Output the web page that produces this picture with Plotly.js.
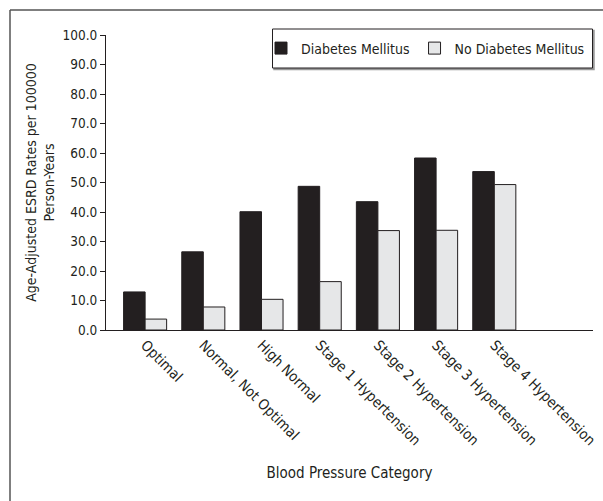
<!DOCTYPE html>
<html>
<head>
<meta charset="utf-8">
<script src="https://cdn.plot.ly/plotly-3.0.1.min.js"></script>
<style>
  html, body { margin: 0; padding: 0; background: #fff; }
  #chart { width: 603px; height: 501px; }
</style>
</head>
<body>
<div id="chart"></div>
<script>
const categories = [
  "Optimal",
  "Normal, Not Optimal",
  "High Normal",
  "Stage 1 Hypertension",
  "Stage 2 Hypertension",
  "Stage 3 Hypertension",
  "Stage 4 Hypertension"
];
const diabetesValues = [12.9, 26.5, 40.1, 48.7, 43.5, 58.3, 53.7];
const noDiabetesValues = [3.7, 7.8, 10.4, 16.4, 33.7, 33.8, 49.3];
const seriesNames = ["Diabetes Mellitus", "No Diabetes Mellitus"];
const yTickValues = [0, 10, 20, 30, 40, 50, 60, 70, 80, 90, 100];

const FONT = "'DejaVu Sans Condensed', 'Liberation Sans Narrow', 'Arial Narrow', sans-serif";
const INK = "#231f20";

// plot area geometry (pixels)
const W = 603, H = 501;
const M = { l: 106, r: 10, t: 35, b: 171 };
const pw = W - M.l - M.r, ph = H - M.t - M.b;
const px = x => (x - M.l) / pw;
const py = y => (H - M.b - y) / ph;

const data = [
  {
    type: "bar", name: seriesNames[0], x: categories, y: diabetesValues,
    marker: { color: INK, line: { color: INK, width: 1 } }
  },
  {
    type: "bar", name: seriesNames[1], x: categories, y: noDiabetesValues,
    marker: { color: "#e6e7e8", line: { color: INK, width: 1 } }
  }
];

const layout = {
  width: W, height: H,
  margin: M,
  paper_bgcolor: "#fff", plot_bgcolor: "rgba(0,0,0,0)",
  font: { family: FONT, size: 14, color: INK },
  barmode: "group",
  bargap: 0.26, bargroupgap: 0,
  showlegend: true,
  legend: {
    orientation: "h",
    x: px(590), xanchor: "right", y: py(48.5), yanchor: "middle",
    borderwidth: 0, bgcolor: "rgba(0,0,0,0)",
    font: { family: FONT, size: 14, color: INK },
    traceorder: "normal"
  },
  xaxis: {
    type: "category",
    range: [-0.672, 7.696],
    showline: true, linecolor: INK, linewidth: 1,
    ticks: "", tickangle: 45,
    tickfont: { family: FONT, size: 14.5, color: INK },
    showgrid: false, zeroline: false,
    title: { text: "Blood Pressure Category", font: { family: FONT, size: 15, color: INK }, standoff: 19 },
    fixedrange: true
  },
  yaxis: {
    range: [0, 100],
    tickvals: yTickValues,
    tickformat: ".1f",
    showline: true, linecolor: INK, linewidth: 1,
    ticks: "outside", ticklen: 5, tickcolor: INK,
    tickfont: { family: FONT, size: 13.5, color: INK },
    showgrid: false, zeroline: false,
    title: { text: "Age-Adjusted ESRD Rates per 100000<br>Person-Years", font: { family: FONT, size: 14, color: INK }, standoff: 4 },
    fixedrange: true
  },
  shapes: [
    { type: "line", xref: "paper", yref: "paper", x0: px(10), x1: px(10), y0: py(10), y1: py(H), line: { color: "#555", width: 1.5 } },
    { type: "line", xref: "paper", yref: "paper", x0: px(10), x1: px(W), y0: py(10), y1: py(10), line: { color: "#555", width: 1.5 } },
    { type: "rect", xref: "paper", yref: "paper", x0: px(274), x1: px(594), y0: py(30.5), y1: py(69.5), line: { color: "#999", width: 1.5 }, fillcolor: "#999", layer: "below" },
    { type: "rect", xref: "paper", yref: "paper", x0: px(272.5), x1: px(592.5), y0: py(29), y1: py(68), line: { color: INK, width: 1 }, fillcolor: "#fff", layer: "below" }
  ]
};

Plotly.newPlot("chart", data, layout, { displayModeBar: false, staticPlot: true });
</script>
</body>
</html>
